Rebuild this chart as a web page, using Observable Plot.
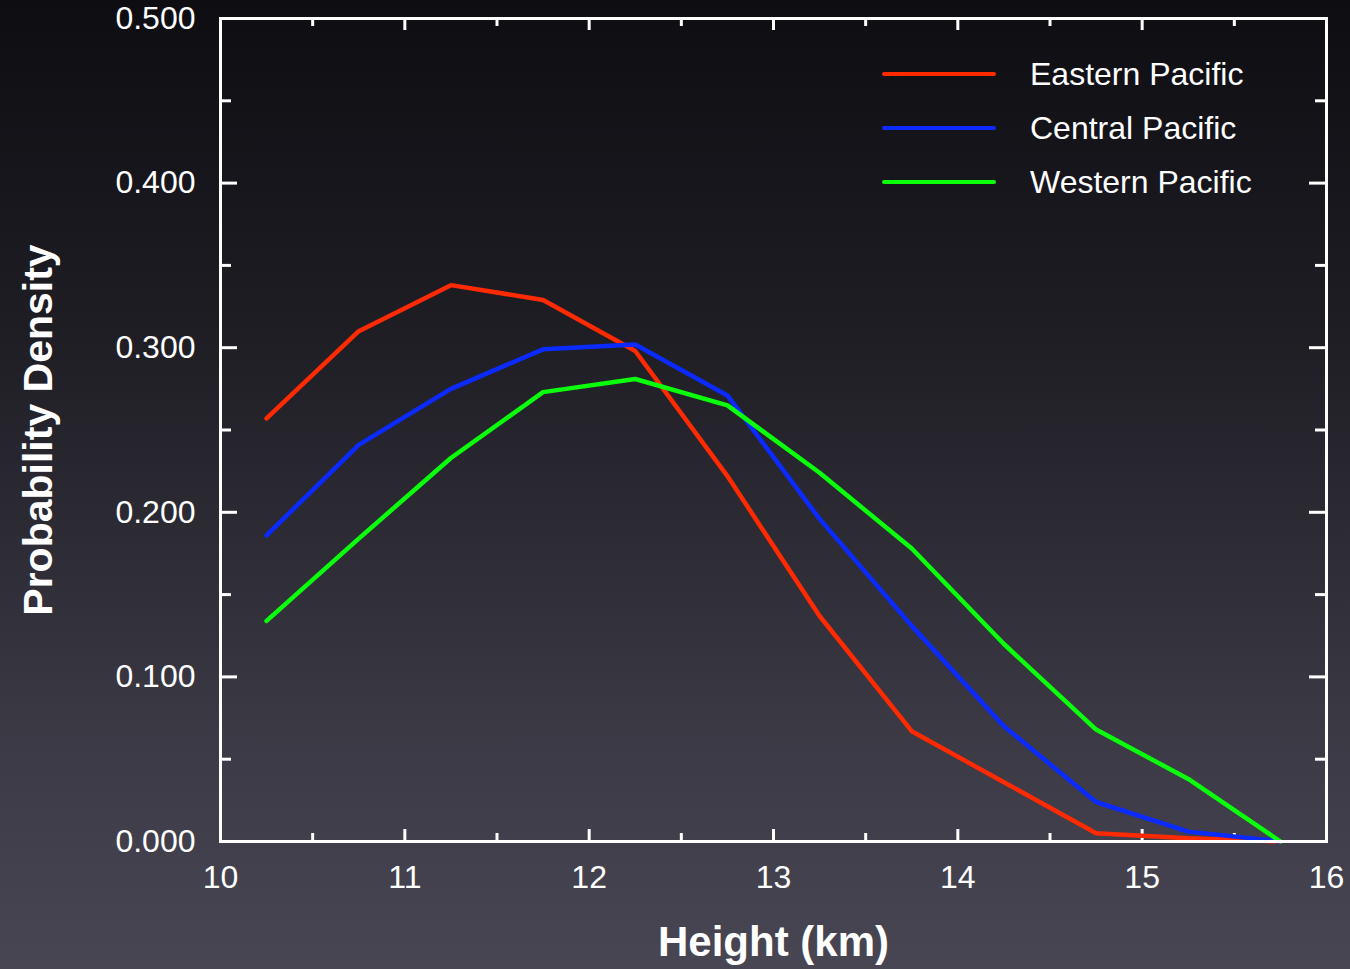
<!DOCTYPE html>
<html>
<head>
<meta charset="utf-8">
<script src="https://cdn.jsdelivr.net/npm/d3@7"></script>
<script src="https://cdn.jsdelivr.net/npm/@observablehq/plot@0.6"></script>
<style>
  html, body { margin: 0; padding: 0; }
  body {
    width: 1350px; height: 969px; overflow: hidden; position: relative;
    background: linear-gradient(to bottom, #0d0d12 0%, #1f1e25 35%, #3a3944 75%, #484653 100%);
    font-family: "Liberation Sans", Arial, Helvetica, sans-serif;
  }
  #chart { position: absolute; left: 0; top: 0; }
  #legend { position: absolute; left: 882px; top: 47px; color: #fff; font-size: 32px; }
  #legend .row { display: flex; align-items: center; height: 54px; }
  #legend .sw { width: 114px; height: 4px; border-radius: 2px; margin-right: 34px; }
</style>
</head>
<body>
<div id="chart"></div>
<div id="legend"></div>
<script>
const heights = [10.25, 10.75, 11.25, 11.75, 12.25, 12.75, 13.25, 13.75, 14.25, 14.75, 15.25, 15.75];
const eastern = [0.257, 0.310, 0.338, 0.329, 0.298, 0.222, 0.137, 0.067, 0.036, 0.005, 0.002, 0.000];
const central = [0.186, 0.241, 0.275, 0.299, 0.302, 0.271, 0.196, 0.131, 0.070, 0.024, 0.006, 0.000];
const western = [0.134, 0.184, 0.233, 0.273, 0.281, 0.265, 0.224, 0.178, 0.120, 0.068, 0.038, 0.000];
const seriesNames = ["Eastern Pacific", "Central Pacific", "Western Pacific"];
const seriesColors = ["#ff2a00", "#0a2aff", "#0aff0a"];
const xTicks = [10, 11, 12, 13, 14, 15, 16];
const xMinor = [10.5, 11.5, 12.5, 13.5, 14.5, 15.5];
const yTicks = [0, 0.1, 0.2, 0.3, 0.4, 0.5];
const yMinor = [0.05, 0.15, 0.25, 0.35, 0.45];

const rows = [];
[eastern, central, western].forEach((vals, i) =>
  vals.forEach((v, j) => rows.push({series: seriesNames[i], x: heights[j], y: v})));

const W = 1350, H = 969;
const mL = 220, mR = 24, mT = 18, mB = 128;
const fw = W - mL - mR, fh = H - mT - mB;
const white = "#ffffff";

const plot = Plot.plot({
  width: W, height: H,
  marginLeft: mL, marginRight: mR, marginTop: mT, marginBottom: mB,
  style: {background: "transparent", color: white, fontFamily: "'Liberation Sans', Arial, sans-serif"},
  x: {domain: [10, 16]},
  y: {domain: [0, 0.5]},
  color: {domain: seriesNames, range: seriesColors},
  marks: [
    // inward tick marks, all four sides
    Plot.ruleX(xTicks, {stroke: white, strokeWidth: 3, insetTop: fh - 12}),
    Plot.ruleX(xMinor, {stroke: white, strokeWidth: 3, insetTop: fh - 8}),
    Plot.ruleX(xTicks, {stroke: white, strokeWidth: 3, insetBottom: fh - 12}),
    Plot.ruleX(xMinor, {stroke: white, strokeWidth: 3, insetBottom: fh - 8}),
    Plot.ruleY(yTicks, {stroke: white, strokeWidth: 3, insetRight: fw - 17}),
    Plot.ruleY(yMinor, {stroke: white, strokeWidth: 3, insetRight: fw - 11}),
    Plot.ruleY(yTicks, {stroke: white, strokeWidth: 3, insetLeft: fw - 17}),
    Plot.ruleY(yMinor, {stroke: white, strokeWidth: 3, insetLeft: fw - 11}),
    Plot.lineY(rows, {x: "x", y: "y", z: "series", stroke: "series", strokeWidth: 4.5, strokeLinejoin: "miter"}),
    Plot.frame({stroke: white, strokeWidth: 3}),
    Plot.axisX({ticks: xTicks, tickSize: 0, tickPadding: 24, fontSize: 32, tickFormat: d => String(d), label: null}),
    Plot.axisY({ticks: yTicks, tickSize: 0, tickPadding: 25, fontSize: 32, tickFormat: d3.format(".3f"), label: null}),
    Plot.text(["Height (km)"], {frameAnchor: "bottom", dy: 114, fontSize: 42, fontWeight: "bold", fill: white}),
    Plot.text(["Probability Density"], {frameAnchor: "left", textAnchor: "middle", dx: -182, rotate: -90, fontSize: 41, fontWeight: "bold", fill: white})
  ]
});
document.getElementById("chart").appendChild(plot);

const legend = document.getElementById("legend");
seriesNames.forEach((name, i) => {
  const row = document.createElement("div");
  row.className = "row";
  const sw = document.createElement("div");
  sw.className = "sw";
  sw.style.background = seriesColors[i];
  const lab = document.createElement("span");
  lab.textContent = name;
  row.appendChild(sw); row.appendChild(lab);
  legend.appendChild(row);
});
</script>
</body>
</html>
